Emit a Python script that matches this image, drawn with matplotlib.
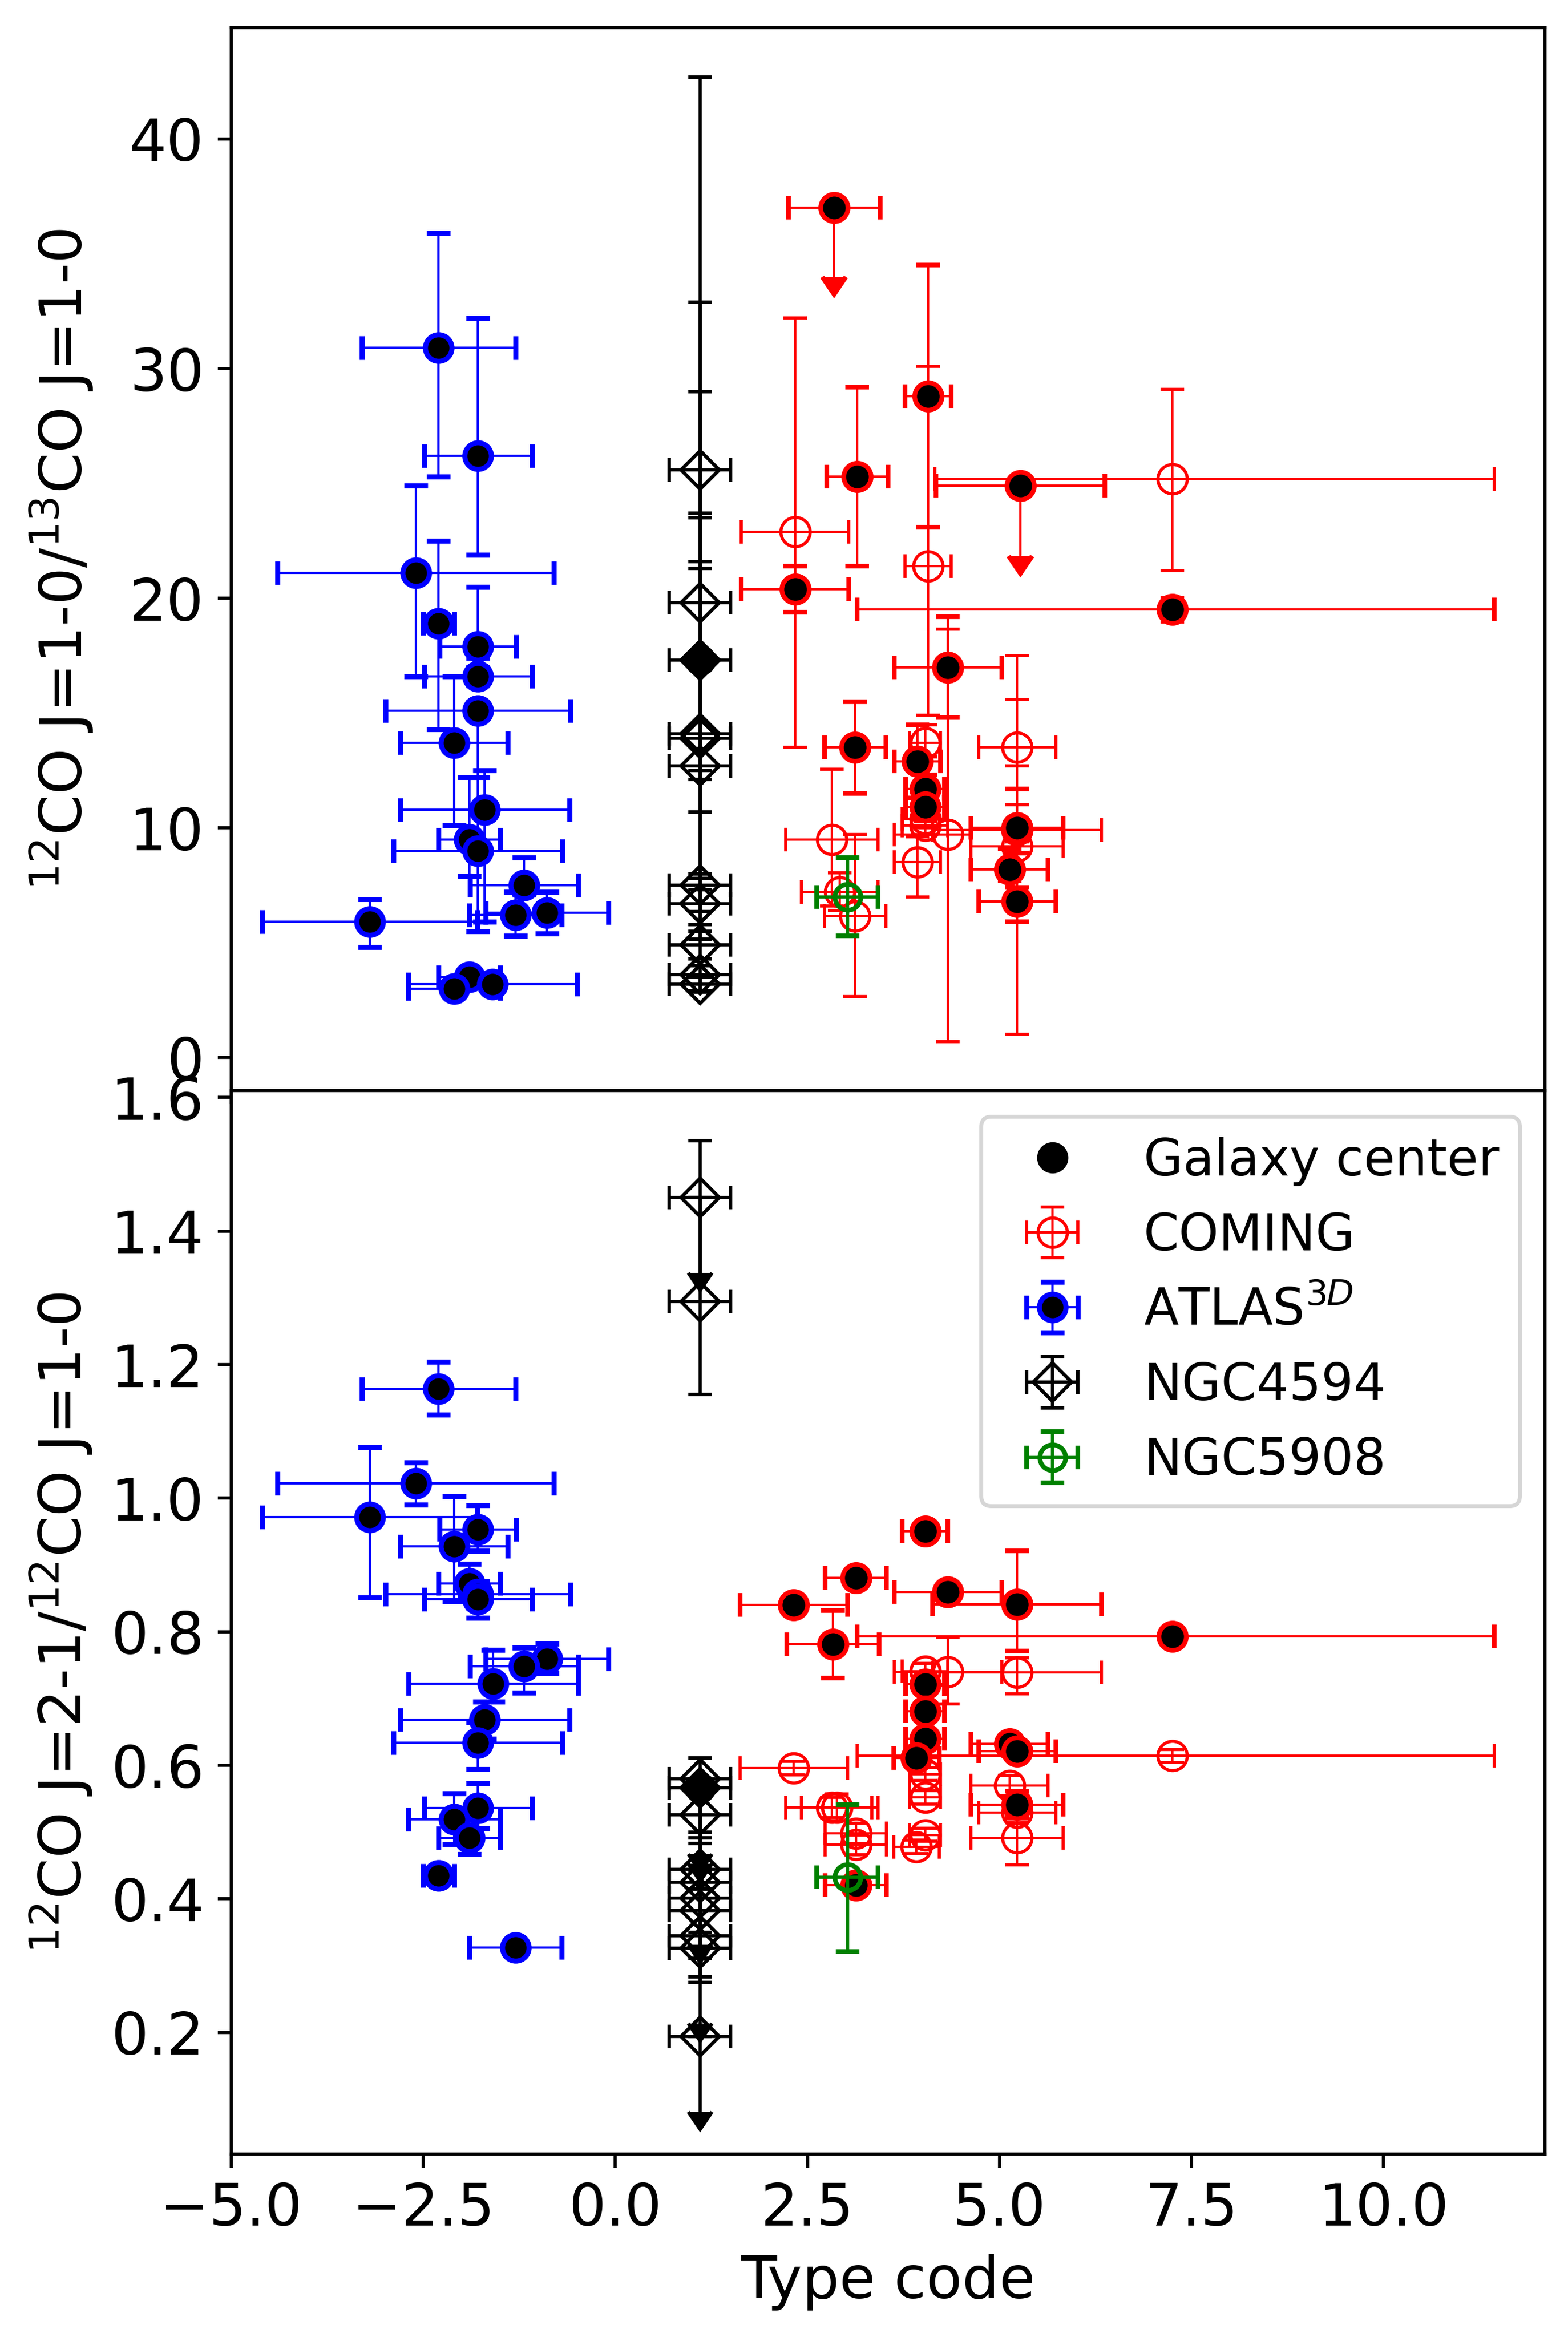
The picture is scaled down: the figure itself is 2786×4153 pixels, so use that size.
import numpy as np
import matplotlib
matplotlib.use("Agg")
import matplotlib.pyplot as plt

# ---------------- top panel: 12CO(1-0)/13CO(1-0) ----------------
# ATLAS3D (galaxy centers)
atl1_x    = [-2.30, -1.79, -2.60, -2.30, -1.79, -1.79, -1.79, -2.10, -1.70, -1.90, -1.79, -1.19, -1.30, -0.89, -3.20, -1.90, -2.10, -1.60]
atl1_xe   = [1.0, 0.7, 1.8, 0.2, 0.5, 0.7, 1.2, 0.7, 1.1, 0.4, 1.1, 0.7, 0.6, 0.8, 1.4, 0.4, 0.6, 1.1]
atl1_y    = [30.9, 26.2, 21.1, 18.9, 17.9, 16.6, 15.1, 13.7, 10.8, 9.5, 9.0, 7.5, 6.2, 6.3, 5.9, 3.5, 3.0, 3.2]
atl1_ylo  = [5.6, 4.3, 4.5, 4.6, 0.5, 0.4, 2.9, 3.6, 4.9, 1.6, 3.5, 0.4, 0.9, 0.9, 1.1, 0.2, 0.2, 0.2]
atl1_yhi  = [5.0, 6.0, 3.8, 3.6, 2.6, 0.4, 0.4, 2.9, 1.7, 2.7, 3.2, 1.2, 1.0, 0.9, 1.0, 0.2, 0.2, 0.2]

# COMING, open circles
com1_x    = [2.34, 4.07, 7.25, 4.03, 4.03, 4.03, 4.33, 3.93, 2.82, 2.92, 3.12, 5.23, 5.23, 5.23]
com1_xlo  = [0.7, 0.3, 3.09, 0.2, 0.3, 0.3, 0.7, 0.3, 0.6, 0.5, 0.4, 0.5, 1.1, 0.6]
com1_xhi  = [0.7, 0.3, 4.19, 0.2, 0.3, 0.3, 0.3, 0.3, 0.6, 0.5, 0.4, 0.5, 1.1, 0.6]
com1_y    = [22.9, 21.4, 25.2, 13.7, 10.4, 10.1, 9.7, 8.5, 9.5, 7.2, 6.15, 13.5, 9.9, 9.2]
com1_ylo  = [9.4, 6.5, 4.0, 0.6, 0.4, 0.4, 9.0, 1.5, 2.9, 0.8, 3.5, 0.8, 0.5, 8.2]
com1_yhi  = [9.3, 8.7, 3.9, 0.8, 0.4, 0.4, 8.95, 1.1, 3.05, 0.85, 3.55, 4.0, 1.1, 6.4]

# COMING galaxy centers
cen1_x    = [2.85, 4.07, 3.15, 5.27, 2.34, 7.25, 4.33, 3.12, 3.93, 4.03, 4.03, 5.23, 5.13, 5.23]
cen1_xlo  = [0.6, 0.3, 0.4, 1.1, 0.7, 4.1, 0.7, 0.4, 0.3, 0.25, 0.25, 0.6, 0.5, 0.5]
cen1_xhi  = [0.6, 0.3, 0.4, 1.1, 0.7, 4.19, 0.7, 0.4, 0.3, 0.25, 0.25, 0.6, 0.5, 0.5]
cen1_y    = [37.0, 28.8, 25.3, 24.9, 20.4, 19.5, 17.0, 13.5, 12.9, 11.7, 10.9, 10.0, 8.2, 6.8]
cen1_ylo  = [3.0, 5.7, 3.9, 3.05, 1.0, 0.5, 2.2, 2.0, 1.6, 0.6, 0.6, 1.1, 0.5, 0.9]
cen1_yhi  = [0.0, 5.7, 3.9, 0.0, 1.0, 0.5, 2.2, 2.0, 1.6, 0.6, 0.6, 1.7, 0.9, 0.6]
cen1_lim  = [True, False, False, True, False, False, False, False, False, False, False, False, False, False]

# NGC4594 (all at the same type code)
n4594_1_y   = [25.6, 19.8, 17.3, 14.1, 13.9, 12.7, 7.5, 6.7, 4.9, 3.6, 3.2]
n4594_1_ylo = [4.0, 7.7, 4.8, 3.4, 6.1, 6.35, 1.7, 1.55, 0.6, 0.75, 0.3]
n4594_1_yhi = [17.1, 13.1, 6.4, 14.9, 9.6, 8.6, 0.5, 0.6, 0.6, 0.4, 0.3]
n4594_1_cen = [17.3]

# NGC5908
n5908_1_y, n5908_1_ye = [7.0], [1.7]

# ---------------- bottom panel: 12CO(2-1)/12CO(1-0) ----------------
atl2_x    = [-2.30, -2.60, -3.20, -1.79, -2.10, -1.90, -1.79, -1.79, -0.89, -1.19, -1.59, -1.70, -1.79, -1.79, -2.10, -1.90, -2.30, -1.30]
atl2_xe   = [1.0, 1.8, 1.4, 0.5, 0.7, 0.4, 1.2, 0.7, 0.8, 0.7, 1.1, 1.1, 1.1, 0.7, 0.6, 0.4, 0.2, 0.6]
atl2_y    = [1.164, 1.022, 0.972, 0.953, 0.928, 0.872, 0.856, 0.849, 0.759, 0.748, 0.722, 0.668, 0.634, 0.536, 0.519, 0.491, 0.435, 0.327]
atl2_ylo  = [0.039, 0.032, 0.121, 0.032, 0.083, 0.02, 0.02, 0.028, 0.021, 0.039, 0.027, 0.028, 0.040, 0.03, 0.037, 0.024, 0.01, 0.01]
atl2_yhi  = [0.040, 0.031, 0.104, 0.036, 0.075, 0.03, 0.02, 0.02, 0.023, 0.028, 0.051, 0.027, 0.03, 0.037, 0.039, 0.03, 0.01, 0.01]

com2_x    = [2.32, 2.82, 2.88, 3.13, 3.13, 4.03, 4.33, 4.03, 4.03, 4.03, 3.92, 5.13, 5.23, 5.23, 5.23, 7.25]
com2_xlo  = [0.7, 0.6, 0.46, 0.4, 0.4, 0.3, 0.7, 0.2, 0.2, 0.2, 0.3, 0.5, 0.5, 0.6, 1.1, 4.1]
com2_xhi  = [0.7, 0.6, 0.46, 0.4, 0.4, 0.3, 0.7, 0.2, 0.2, 0.2, 0.3, 0.5, 0.5, 0.6, 1.1, 4.19]
com2_y    = [0.596, 0.537, 0.537, 0.498, 0.481, 0.741, 0.740, 0.587, 0.552, 0.496, 0.478, 0.570, 0.529, 0.491, 0.739, 0.614]
com2_ylo  = [0.01, 0.015, 0.02, 0.015, 0.015, 0.012, 0.048, 0.01, 0.01, 0.01, 0.01, 0.015, 0.015, 0.04, 0.032, 0.01]
com2_yhi  = [0.01, 0.015, 0.02, 0.015, 0.015, 0.012, 0.051, 0.01, 0.01, 0.01, 0.01, 0.015, 0.015, 0.04, 0.022, 0.01]

cen2_x    = [2.32, 2.83, 3.13, 4.03, 4.33, 5.23, 4.03, 4.03, 4.03, 3.92, 5.13, 5.23, 5.23, 3.13, 7.25]
cen2_xlo  = [0.7, 0.6, 0.4, 0.3, 0.7, 1.1, 0.25, 0.25, 0.25, 0.3, 0.5, 0.5, 0.6, 0.4, 4.1]
cen2_xhi  = [0.7, 0.6, 0.4, 0.3, 0.7, 1.1, 0.25, 0.25, 0.25, 0.3, 0.5, 0.5, 0.6, 0.4, 4.19]
cen2_y    = [0.840, 0.781, 0.881, 0.951, 0.860, 0.841, 0.721, 0.681, 0.640, 0.611, 0.632, 0.621, 0.541, 0.421, 0.793]
cen2_ylo  = [0.01, 0.050, 0.01, 0.01, 0.01, 0.07, 0.012, 0.012, 0.012, 0.012, 0.01, 0.01, 0.02, 0.01, 0.005]
cen2_yhi  = [0.01, 0.051, 0.01, 0.01, 0.01, 0.08, 0.012, 0.012, 0.012, 0.012, 0.01, 0.01, 0.02, 0.01, 0.005]

n4594_2_y   = [1.45, 1.294, 0.580, 0.566, 0.526, 0.444, 0.425, 0.401, 0.383, 0.345, 0.326, 0.194]
n4594_2_ylo = [0.113, 0.139, 0.113, 0.113, 0.085, 0.113, 0.075, 0.09, 0.10, 0.07, 0.113, 0.113]
n4594_2_yhi = [0.0, 0.241, 0.0, 0.0, 0.085, 0.0, 0.075, 0.09, 0.10, 0.07, 0.0, 0.0]
n4594_2_lim = [True, False, True, True, False, True, False, False, False, False, True, True]
n4594_2_cen = [0.566]

n5908_2_y, n5908_2_ylo, n5908_2_yhi = [0.432], [0.111], [0.109]

n4594_x, n4594_xe = 1.1, 0.4
n5908_x, n5908_xe = 3.02, 0.4

plt.rcParams['font.size'] = 15

fig, (ax1, ax2) = plt.subplots(2, 1, sharex=True, figsize=(5.572, 8.306))
fig.subplots_adjust(left=0.1475, right=0.9853, top=0.9882, bottom=0.0783, hspace=0)


def fix_caps(eb, c):
    # limit arrows otherwise pick up the colour cycle
    for cl in eb[1]:
        cl.set_color(c)
        cl.set_markerfacecolor(c)
        cl.set_markeredgecolor(c)


def draw(ax, atl, com, cen, n4594, n4594_cen, n5908, legend=False):
    ax.errorbar(atl[0], atl[2], xerr=atl[1], yerr=[atl[3], atl[4]], fmt='o',
                mfc='k', mec='b', ms=6.8, mew=1.3, ecolor='b', elinewidth=0.6,
                capsize=3, capthick=1.3, label=r'ATLAS$^{3D}$', zorder=3)
    ax.errorbar(com[0], com[3], xerr=[com[1], com[2]], yerr=[com[4], com[5]], fmt='o',
                mfc='none', mec='r', ms=7.5, mew=0.8, ecolor='r', elinewidth=0.6,
                capsize=3, capthick=0.6, label='COMING', zorder=3)
    eb = ax.errorbar(cen[0], cen[3], xerr=[cen[1], cen[2]], yerr=[cen[4], cen[5]], fmt='o',
                     mfc='k', mec='r', ms=7, mew=1.2, ecolor='r', elinewidth=0.6,
                     capsize=3, capthick=1.3, uplims=cen[6], zorder=3)
    fix_caps(eb, 'r')
    n = len(n4594[0])
    eb = ax.errorbar([n4594_x] * n, n4594[0], xerr=n4594_xe, yerr=[n4594[1], n4594[2]],
                     fmt='D', mfc='none', mec='k', ms=7, mew=0.9, ecolor='k',
                     elinewidth=0.8, capsize=3, capthick=0.9, uplims=n4594[3],
                     label='NGC4594', zorder=3)
    fix_caps(eb, 'k')
    ax.plot([n4594_x] * len(n4594_cen), n4594_cen, 'o', color='k', ms=7, zorder=4)
    ax.errorbar([n5908_x], n5908[0], xerr=n5908_xe, yerr=[n5908[1], n5908[2]], fmt='o',
                mfc='none', mec='g', ms=6.6, mew=1.2, ecolor='g', elinewidth=0.8,
                capsize=3, capthick=1.0, label='NGC5908', zorder=4)
    if legend:
        ax.plot([], [], 'o', color='k', ms=7, label='Galaxy center')
        h, l = ax.get_legend_handles_labels()
        order = ['Galaxy center', 'COMING', r'ATLAS$^{3D}$', 'NGC4594', 'NGC5908']
        hh = [h[l.index(o)] for o in order]
        ax.legend(hh, order, loc='upper right', fontsize=13)


draw(ax1,
     (atl1_x, atl1_xe, atl1_y, atl1_ylo, atl1_yhi),
     (com1_x, com1_xlo, com1_xhi, com1_y, com1_ylo, com1_yhi),
     (cen1_x, cen1_xlo, cen1_xhi, cen1_y, cen1_ylo, cen1_yhi, cen1_lim),
     (n4594_1_y, n4594_1_ylo, n4594_1_yhi, [False] * len(n4594_1_y)), n4594_1_cen,
     (n5908_1_y, n5908_1_ye, n5908_1_ye))

draw(ax2,
     (atl2_x, atl2_xe, atl2_y, atl2_ylo, atl2_yhi),
     (com2_x, com2_xlo, com2_xhi, com2_y, com2_ylo, com2_yhi),
     (cen2_x, cen2_xlo, cen2_xhi, cen2_y, cen2_ylo, cen2_yhi, [False] * len(cen2_y)),
     (n4594_2_y, n4594_2_ylo, n4594_2_yhi, n4594_2_lim), n4594_2_cen,
     (n5908_2_y, n5908_2_ylo, n5908_2_yhi), legend=True)

ax1.set_xlim(-5, 12.1)
ax1.set_ylim(-1.45, 44.85)
ax2.set_ylim(0.018, 1.61)
ax1.set_yticks([0, 10, 20, 30, 40])
ax2.set_yticks([0.2, 0.4, 0.6, 0.8, 1.0, 1.2, 1.4, 1.6])

ax1.set_ylabel(r'$^{12}$CO J=1-0/$^{13}$CO J=1-0')
ax2.set_ylabel(r'$^{12}$CO J=2-1/$^{12}$CO J=1-0')
ax2.set_xlabel('Type code')
fig.align_ylabels([ax1, ax2])

fig.savefig('out.png', dpi=500)
